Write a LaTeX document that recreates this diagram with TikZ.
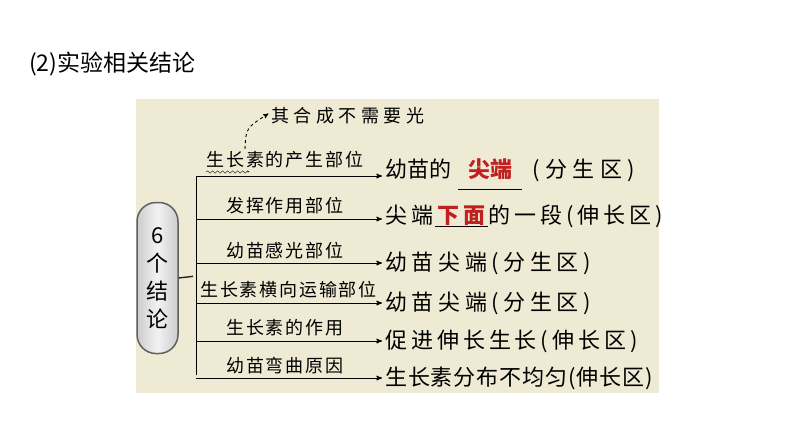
\documentclass[tikz,border=0pt]{standalone}
\usepackage{fontspec}
\setmainfont{Noto Sans CJK SC}
\newfontfamily\labfont[LetterSpace=10]{Noto Sans CJK SC}
\newfontfamily\handfont[LetterSpace=25]{Noto Sans CJK SC}
\usetikzlibrary{arrows,decorations.pathmorphing}

\definecolor{paper}{RGB}{239,234,211}
\definecolor{keyred}{RGB}{192,32,32}

% blank with red answer: width, rule depth, text
\newcommand{\answer}[3]{\makebox[#1][c]{\color{keyred}\bfseries #3}\llap{\rule[-#2]{#1}{0.8pt}}}

\begin{document}
\begin{tikzpicture}[x=1pt, y=-1pt, >=stealth', shorten >=3pt,
    lab/.style={font=\labfont\fontsize{18}{18}\selectfont, inner sep=2pt},
    res/.style={anchor=west, inner sep=0pt, font=\fontsize{22}{22}\selectfont},
    pill/.style={draw=gray!75!black, line width=1.5pt, rounded corners=19pt,
        minimum width=41pt, minimum height=151pt, inner sep=0pt,
        left color=gray!40, right color=gray!40, middle color=gray!10,
        align=center, font=\fontsize{22}{28}\selectfont},
    link/.style={line width=1pt}]

    \useasboundingbox (0,0) rectangle (794,447);
    \fill [paper] (136,99) rectangle (659,393);

    % Nodes {title, pill, results}
    \node [anchor=west, inner sep=0pt, font=\fontsize{23}{23}\selectfont] (title) at (29,64) {(2)实验相关结论};
    \node [pill]                      (pill) at (157.5,278) {6\\个\\结\\论};

    \coordinate (fork) at (196,276);
    \coordinate (b1) at (196,176);
    \coordinate (b2) at (196,219);
    \coordinate (b3) at (196,263);
    \coordinate (b4) at (196,303);
    \coordinate (b5) at (196,341);
    \coordinate (b6) at (196,378);

    \node [res] (r1) at (385,174) {幼苗的\hspace{7pt}\answer{64pt}{12pt}{尖端}{\addfontfeature{LetterSpace=25}\hspace{10pt}(分生区)}};
    \node [res] (r2) at (385,216) {\addfontfeature{LetterSpace=18}尖端\hspace{2pt}\answer{53pt}{4pt}{下面}的一段(伸长区)};
    \node [res] (r3) at (385,263) {\addfontfeature{LetterSpace=21}幼苗尖端(分生区)};
    \node [res] (r4) at (385,303) {\addfontfeature{LetterSpace=21}幼苗尖端(分生区)};
    \node [res] (r5) at (385,341) {\addfontfeature{LetterSpace=18}促进伸长生长(伸长区)};
    \node [res] (r6) at (385,378) {\addfontfeature{LetterSpace=4}生长素分布不均匀(伸长区)};

    \node [anchor=west, inner sep=0pt, font=\handfont\fontsize{18}{18}\selectfont] (note) at (271,116) {其合成不需要光};
    \coordinate (tail) at (245,149);

    % Paths
    \draw [link, gray!30!black, line width=1.4pt] (pill.east) -- (fork);
    \draw [link] (b1) -- (b6);
    \path [->, link] (b1) edge node (l1) [lab, above=5pt, pos=0.47] {生长素的产生部位}   (b1 -| r1.west);
    \path [->, link] (b2) edge node      [lab, above=2pt, pos=0.47] {发挥作用部位}       (b2 -| r2.west);
    \path [->, link] (b3) edge node      [lab, above=2pt, pos=0.47] {幼苗感光部位}       (b3 -| r3.west);
    \path [->, link] (b4) edge node      [lab, above=2pt, pos=0.49] {生长素横向运输部位} (b4 -| r4.west);
    \path [->, link] (b5) edge node      [lab, above=2pt, pos=0.47] {生长素的作用}       (b5 -| r5.west);
    \path [->, link] (b6) edge node      [lab, above=2pt, pos=0.47] {幼苗弯曲原因}       (b6 -| r6.west);

    \draw [decorate, decoration={snake, amplitude=1.2pt, segment length=5pt}]
        ([xshift=2pt, yshift=-1pt]l1.south west) -- ([xshift=46pt, yshift=-1pt]l1.south west);
    \draw [->, dashed, line width=0.9pt] (tail) .. controls (246,128) .. ([yshift=4pt]note.west);

\end{tikzpicture}
\end{document}
